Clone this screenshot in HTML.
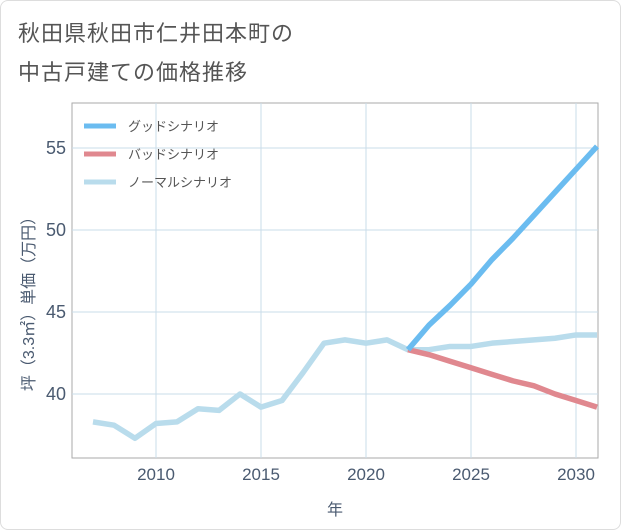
<!DOCTYPE html>
<html><head><meta charset="utf-8">
<style>
body{margin:0;background:#fff;}
#wrap{position:relative;width:621px;height:530px;font-family:"Liberation Sans","Noto Sans CJK JP",sans-serif;}
#frame{position:absolute;left:0;top:0;width:619px;height:528px;border:1px solid #ddd;border-radius:8px;}
.title{position:absolute;left:18px;font-size:22px;color:#555;letter-spacing:1px;}
</style></head><body>
<div id="wrap">
<div id="frame"></div>
<div class="title" style="top:16px">秋田県秋田市仁井田本町の</div>
<div class="title" style="top:55px">中古戸建ての価格推移</div>
<svg id="chart" width="621" height="530" style="position:absolute;left:0;top:0"></svg>
</div>
<script>
const years=[2007,2008,2009,2010,2011,2012,2013,2014,2015,2016,2017,2018,2019,2020,2021,2022,2023,2024,2025,2026,2027,2028,2029,2030,2031];
const normal=[38.3,38.1,37.3,38.2,38.3,39.1,39.0,40.0,39.2,39.6,41.3,43.1,43.3,43.1,43.3,42.7,42.7,42.9,42.9,43.1,43.2,43.3,43.4,43.6,43.6];
const futureYears=[2022,2023,2024,2025,2026,2027,2028,2029,2030,2031];
const good=[42.7,44.2,45.4,46.7,48.2,49.5,50.9,52.3,53.7,55.1];
const bad=[42.7,42.4,42.0,41.6,41.2,40.8,40.5,40.0,39.6,39.2];
const xTicks=[2010,2015,2020,2025,2030];
const yTicks=[40,45,50,55];
const legendLabels=["グッドシナリオ","バッドシナリオ","ノーマルシナリオ"];
const colors=["#6bbcf0","#e0888f","#b9dcec"];

const NS="http://www.w3.org/2000/svg";
const svg=document.getElementById('chart');
const L=72,R=598,T=103,B=458;
const X=y=>156+(y-2010)*21;
const Y=v=>394-(v-40)*16.4;
function mk(t,a){const e=document.createElementNS(NS,t);for(const k in a)e.setAttribute(k,a[k]);svg.appendChild(e);return e;}
const bg=mk('rect',{x:L,y:T,width:R-L,height:B-T,fill:'#fff',stroke:'#aaa','stroke-width':1});


xTicks.forEach(t=>{
 const g=mk('line',{x1:X(t),x2:X(t),y1:T,y2:B,stroke:'#cadcea'});
 
 
 const tx=mk('text',{x:X(t),y:480,'text-anchor':'middle','font-size':17,fill:'#4a5a70'});
 tx.textContent=t;
 
 
});
yTicks.forEach(t=>{
 const g=mk('line',{x1:L,x2:R,y1:Y(t),y2:Y(t),stroke:'#cadcea'});
 
 
 const tx=mk('text',{x:66,y:Y(t)+6,'text-anchor':'end','font-size':18,fill:'#4a5a70'});
 tx.textContent=t;
 
 
});
const xt=mk('text',{x:335,y:515,'text-anchor':'middle','font-size':16,fill:'#4a5a70'});
xt.textContent='年';


const yt=mk('text',{x:0,y:0,'text-anchor':'middle','font-size':16,fill:'#4a5a70',transform:'translate(34,300) rotate(-90)'});
yt.textContent='坪（3.3㎡）単価（万円）';


function line(xs,vs,c,name){
 const d=xs.map((x,i)=>(i?'L':'M')+X(x)+','+Y(vs[i])).join('');
 const p=mk('path',{d:d,fill:'none',stroke:c,'stroke-width':5.5,'stroke-linejoin':'round'});
 
 
}
line(years,normal,colors[2],'normal-scenario-line');
line(futureYears,bad,colors[1],'bad-scenario-line');
line(futureYears,good,colors[0],'good-scenario-line');
legendLabels.forEach((lb,i)=>{
 const y=126+i*28;
 const l=mk('line',{x1:84,x2:116,y1:y,y2:y,stroke:colors[i],'stroke-width':5});
 
 
 const t=mk('text',{x:128,y:y+5,'font-size':13,fill:'#555'});
 t.textContent=lb;
 
 
});
</script>
</body></html>
